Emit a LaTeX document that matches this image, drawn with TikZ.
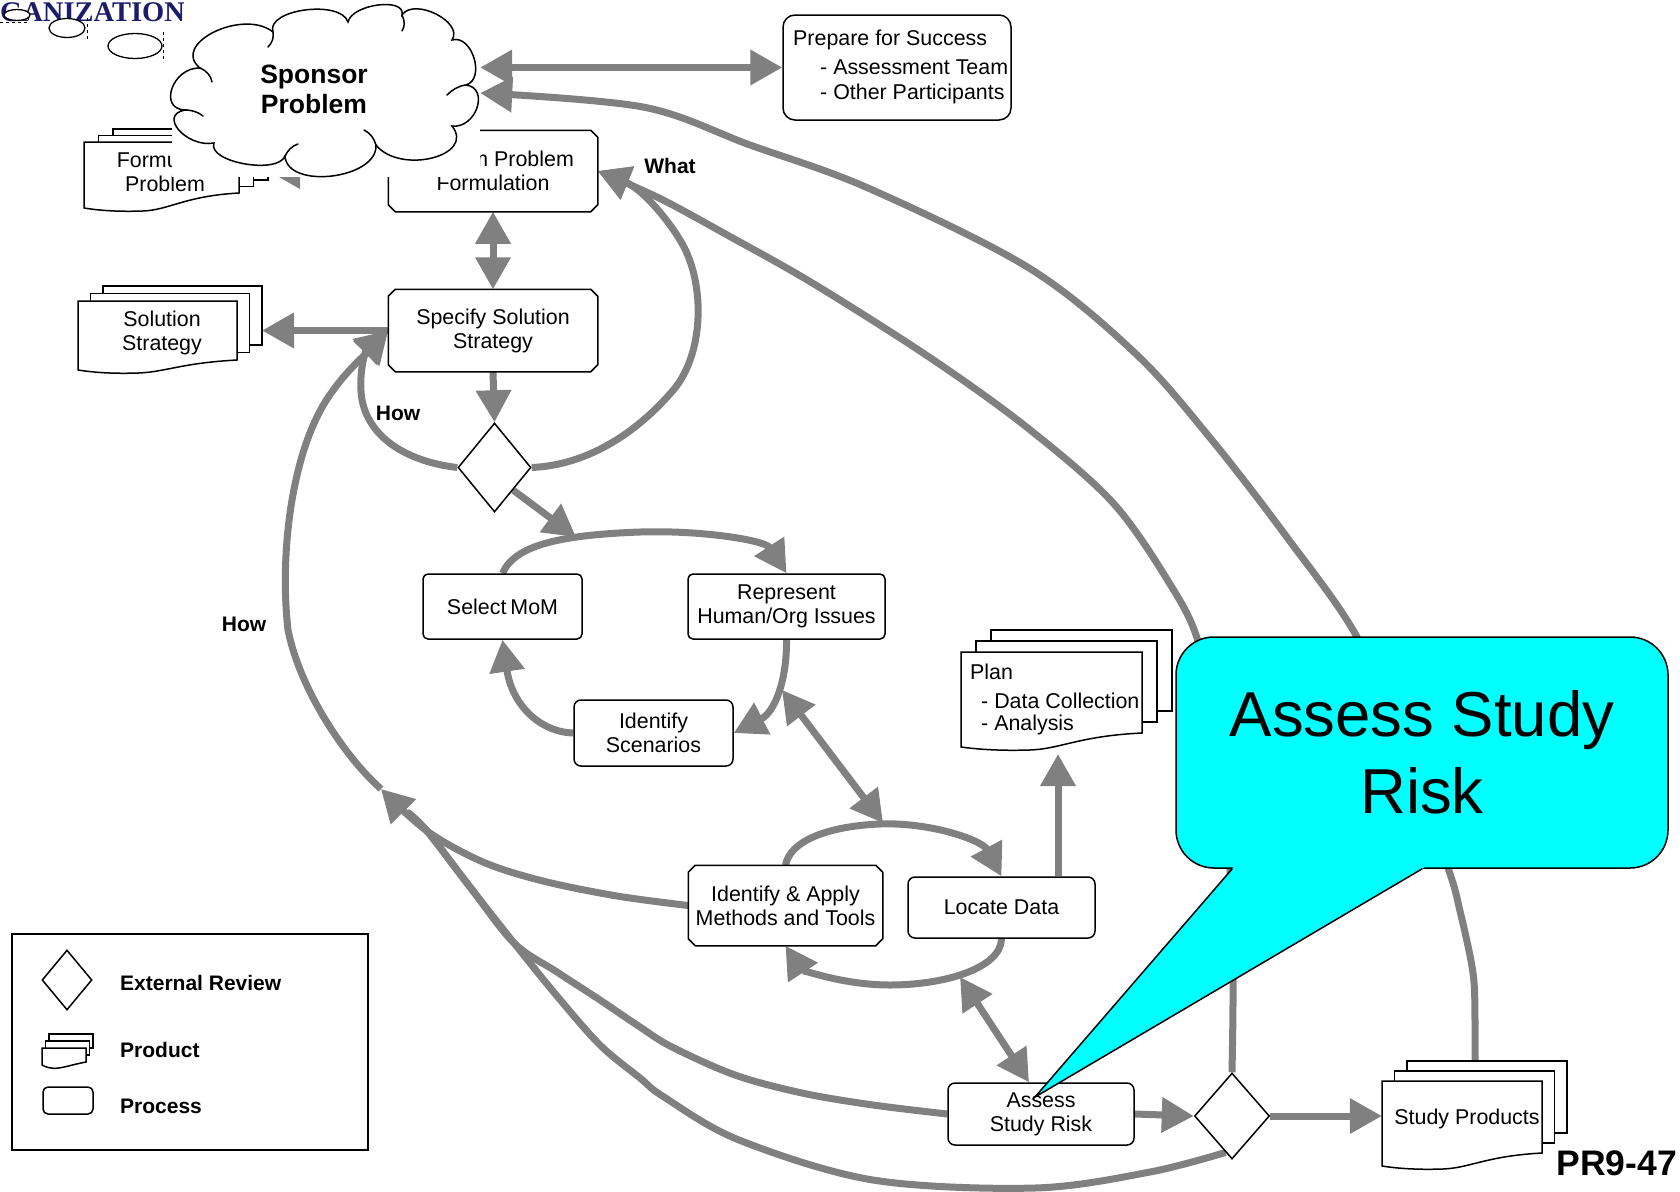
\documentclass[tikz,border=0pt]{standalone}
\usepackage{fontspec}
\setmainfont{Liberation Sans}
\newfontfamily\orgfont{Liberation Serif}
\usetikzlibrary{arrows.meta,shapes.geometric,calc}

\pgfdeclarelayer{links}
\pgfdeclarelayer{over}
\pgfsetlayers{links,main,over}

\definecolor{linkgray}{HTML}{808080}
\definecolor{calloutcyan}{HTML}{00FFFF}
\definecolor{orgnavy}{HTML}{1C1C6B}

\newcommand\diagfont{\fontsize{21.4}{24}\selectfont}
\newcommand\tagfont{\bfseries\fontsize{21}{23}\selectfont}

\tikzset{
  link/.style={draw=linkgray, line width=7pt},
  arr/.style={link, -{Triangle[length=32pt,width=34pt]}},
  darr/.style={link, {Triangle[length=32pt,width=34pt]}-{Triangle[length=32pt,width=34pt]}},
  procbox/.style={draw, line width=1.5pt, fill=white, rounded corners=7pt,
    inner sep=0pt, align=center, font=\diagfont},
  chambox/.style={procbox, draw=none},
  review/.style={diamond, draw, line width=1.5pt, fill=white, inner sep=0pt},
  sheet/.style={draw, fill=white, line width=1.5pt, line join=miter},
  txt/.style={inner sep=0pt, font=\diagfont},
  tag/.style={inner sep=0pt, font=\tagfont},
  cloudline/.style={draw, line width=1.5pt, line cap=round},
}

% outline with cut corners around a process node
\newcommand\chamferframe[1]{%
  \draw[line width=1.5pt, line join=miter]
    ($(#1.north west)+(7,0)$) -- ($(#1.north east)+(-7,0)$) -- ($(#1.north east)+(0,7)$)
    -- ($(#1.south east)+(0,-7)$) -- ($(#1.south east)+(-7,0)$) -- ($(#1.south west)+(7,0)$)
    -- ($(#1.south west)+(0,-7)$) -- ($(#1.north west)+(0,7)$) -- cycle;
}

% stack of three sheets with a wavy front sheet
% #1 name, #2 x0, #3 y0, #4 x1, #5 y1 (front sheet), #6 dx, #7 dy (sheet offset), #8 wave depth
\newcommand\prodstack[8]{%
  \path[sheet] ({#2+2*(#6)},{#3+2*(#7)}) rectangle ({#4+2*(#6)},{#5+2*(#7)});
  \path[sheet] ({#2+(#6)},{#3+(#7)}) rectangle ({#4+(#6)},{#5+(#7)});
  \path[sheet] (#2,#3) -- (#4,#3) -- (#4,#5)
     .. controls ({#4-0.35*(#4-#2)},{#5+3}) and ({#4-0.45*(#4-#2)},{#5+(#8)+2})
     .. ({#4-0.62*(#4-#2)},{#5+(#8)+3})
     .. controls ({#4-0.8*(#4-#2)},{#5+(#8)+4}) and ({#2+0.08*(#4-#2)},{#5+(#8)+2})
     .. (#2,{#5+(#8)}) -- cycle;
  \node[inner sep=0pt, minimum width={(#4-#2)*1pt}, minimum height={(#5-#3)*1pt}]
     (#1) at ({(#2+#4)/2},{(#3+#5)/2}) {};
  \coordinate (#1-east) at ({#4+2*(#6)},{(#3+#5)/2+2*(#7)});
  \coordinate (#1-top) at ({(#2+#4)/2+2*(#6)},{#3+2*(#7)});
}

\begin{document}
\begin{tikzpicture}[x=1pt,y=-1pt]
\useasboundingbox (0,0) rectangle (1680,1191);

% ---------- heading remnant and thought bubbles ----------
\node[inner sep=0pt, anchor=base west, text=orgnavy,
      font=\orgfont\bfseries\fontsize{28.5}{28.5}\selectfont] (org) at (0,21) {GANIZATION};
\draw[dashed, line width=0.6pt] (0,22) -- (28,22) -- (28,12);
\draw[dashed, line width=0.6pt] (87,18) -- (87,40);
\draw[dashed, line width=0.6pt] (163,32) -- (163,62);
\node[ellipse, draw, line width=1.3pt, fill=white, inner sep=0pt,
      minimum width=26pt, minimum height=11pt] (bubA) at (17,15) {};
\node[ellipse, draw, line width=1.3pt, fill=white, inner sep=0pt,
      minimum width=36pt, minimum height=19pt] (bubB) at (67,28) {};
\node[ellipse, draw, line width=1.3pt, fill=white, inner sep=0pt,
      minimum width=54pt, minimum height=25pt] (bubC) at (135,46) {};

% ---------- products ----------
\prodstack{formprob}{84}{142}{239}{193}{14.5}{-6.5}{15}
\node[txt, align=center] (formtext) at (165,172) {Formulate\\Problem};

\prodstack{solstrat}{78}{301}{237}{360}{12.5}{-7.5}{10}
\node[txt, align=center] (soltext) at (162,333) {Solution\\Strategy};

\prodstack{plan}{961}{652}{1142}{733}{15}{-11}{14}
\node[txt, anchor=base west] (plan1) at (970,679) {Plan};
\node[txt, anchor=base west] (plan2) at (981,708) {- Data Collection};
\node[txt, anchor=base west] (plan3) at (981,730) {- Analysis};

\prodstack{prods}{1382}{1081}{1542}{1153}{12.5}{-10}{13}
\node[txt] (prodtext) at (1467,1119) {Study Products};

% ---------- processes ----------
\node[procbox, minimum width=228pt, minimum height=105pt, rounded corners=12pt] (prep) at (897,67.5) {};
\node[txt, anchor=base west] (prep1) at (793,45) {Prepare for Success};
\node[txt, anchor=base west] (prep2) at (820,74) {- Assessment Team};
\node[txt, anchor=base west] (prep3) at (820,99) {- Other Participants};

\node[chambox, minimum width=208pt, minimum height=80pt] (perf) at (493,171) {Perform Problem\\Formulation};
\chamferframe{perf}
\node[chambox, minimum width=208pt, minimum height=81pt] (spec) at (493,330.5) {Specify Solution\\Strategy};
\chamferframe{spec}
\node[procbox, minimum width=159pt, minimum height=65pt, rounded corners=5pt] (mom) at (502.5,606.5) {Select\hspace{4pt}MoM};
\node[procbox, minimum width=197pt, minimum height=65pt, rounded corners=5pt] (repr) at (786.5,606.5) {Represent\\Human/Org Issues};
\node[procbox, minimum width=159pt, minimum height=66pt] (scen) at (653.5,733) {Identify\\Scenarios};
\node[chambox, minimum width=193pt, minimum height=79pt] (ident) at (785.5,905.5) {Identify \& Apply\\Methods and Tools};
\chamferframe{ident}
\node[procbox, minimum width=187pt, minimum height=61pt] (locate) at (1001.5,907.5) {Locate Data};
\node[procbox, minimum width=186pt, minimum height=62pt] (assess) at (1041,1114) {Assess\\Study Risk};

\node[review, minimum width=73pt, minimum height=89pt] (rev1) at (494.5,467.5) {};
\node[review, minimum width=75pt, minimum height=86pt] (rev2) at (1232,1116) {};

% ---------- labels ----------
\node[tag] (what) at (670,166) {What};
\node[tag] (howin) at (398,413) {How};
\node[tag] (howout) at (244,624) {How};
\node[inner sep=0pt, anchor=base east, font=\bfseries\fontsize{35.5}{36}\selectfont] (code) at (1677,1175) {PR9-47};

% ---------- legend ----------
\node[draw, line width=1.5pt, inner sep=0pt, minimum width=356pt, minimum height=216pt] (legend) at (190,1042) {};
\node[review, minimum width=50pt, minimum height=60pt] (legdia) at (67,980) {};
\prodstack{legprod}{42}{1048}{86}{1062}{3.5}{-7}{3}
\node[procbox, minimum width=50pt, minimum height=27pt, rounded corners=5pt] (legproc) at (68,1100.5) {};
\node[tag, anchor=base west] (legrevtxt) at (120,990) {External Review};
\node[tag, anchor=base west] (legprodtxt) at (120,1057) {Product};
\node[tag, anchor=base west] (legproctxt) at (120,1113) {Process};

% ---------- sponsor cloud (clip art on a white backdrop) and callout ----------
\begin{pgfonlayer}{over}
\node[fill=white, inner sep=0pt, minimum width=296pt, minimum height=177pt] (cloudbg) at (332,88.5) {};
\fill[white] (172,40) rectangle (185,177);
\path[cloudline, fill=white]
  (200,68)  .. controls (170,44)    and (243,8)     .. (273,32)
            .. controls (265.7,9.3) and (340.7,-0.7) .. (348,22)
            .. controls (352,4)     and (406,-3)    .. (402,15)
            .. controls (414,-3)    and (464,22)    .. (452,40)
            .. controls (472,34)    and (486,79)    .. (466,85)
            .. controls (490,88)    and (476,129)   .. (452,126)
            .. controls (476,156)   and (400,175)   .. (376,145)
            .. controls (378,179)   and (287,190)   .. (285,156)
            .. controls (277.7,175) and (206.7,162) .. (214,143)
            .. controls (186.7,148) and (157.7,115) .. (185,110)
            .. controls (157.7,109) and (172.7,67)  .. (200,68) -- cycle;
% creases of the cloud
\path[cloudline] (200,68) .. controls (207,71) and (211,76) .. (212,82);
\path[cloudline] (273,32) .. controls (274,38) and (272,43) .. (268,47);
\path[cloudline] (402,15) .. controls (405,21) and (405,26) .. (402,31);
\path[cloudline] (466,85) .. controls (458,86) and (452,90) .. (447,95);
\path[cloudline] (376,145) .. controls (374,138) and (370,133) .. (364,130);
\path[cloudline] (285,156) .. controls (288,150) and (292,146) .. (298,144);
\path[cloudline] (185,110) .. controls (192,110) and (198,112) .. (203,116);
\node[inner sep=0pt, align=center, font=\bfseries\fontsize{26.5}{30}\selectfont]
      (sponsor) at (314,89) {Sponsor\\Problem};

\node[draw, line width=1.5pt, fill=calloutcyan, rounded corners=38pt, inner sep=0pt,
      minimum width=492pt, minimum height=231pt, align=center,
      font=\fontsize{63.5}{77}\selectfont] (callout) at (1422,752.5) {Assess Study\\Risk};
\coordinate (ptip) at (1035,1097);
\coordinate (pl) at ($(callout.south west)+(57,0)$);
\coordinate (pr) at ($(callout.south west)+(247,0)$);
\fill[calloutcyan] ($(ptip)!1.015!(pl)$) -- (ptip) -- ($(ptip)!1.015!(pr)$) -- cycle;
\draw[line width=1.5pt, line join=miter] (pl) -- (ptip) -- (pr);
\end{pgfonlayer}

% ---------- connectors ----------
\begin{pgfonlayer}{links}
\draw[darr] (prep.west -| cloudbg.east) -- (prep.west);
\draw[darr] (perf.south) -- (spec.north);
\draw[arr] (perf.west) -- (perf.west -| formprob-east);
\draw[arr] (spec.west) -- (spec.west -| solstrat-east);
\draw[arr] (spec.south) -- (rev1.north);

% How: back from the first review to the strategy
\draw[arr] (rev1.west) .. controls (410,462) and (370,440) .. (362,400)
           .. controls (358,375) and (365,352) .. (spec.west);
% What: back from the first review to the formulation
\draw[arr] (rev1.east) .. controls (590,465) and (640,430) .. (675,388)
           .. controls (705,350) and (705,280) .. (680,240)
           .. controls (665,215) and (640,188) .. (perf.east);

% first working loop
\coordinate (loopin) at (576,537);
\draw[arr] (rev1.south east) -- (loopin);
\draw[arr] (mom.north) .. controls (515,545) and (560,535) .. (640,532)
           .. controls (700,530) and (765,540) .. (repr.north);
\draw[arr] (repr.south) .. controls (787,680) and (775,712) .. (scen.east);
\draw[arr] (scen.west) .. controls (540,732) and (512,705) .. (mom.south);

% second working loop
\coordinate (midA) at (782,690);
\coordinate (midB) at (883,823);
\draw[darr] (midA) -- (midB);
\draw[arr] (ident.north) .. controls (790,840) and (830,826) .. (880,824)
           .. controls (930,822) and (982,840) .. (locate.north);
\draw[arr] (locate.south) .. controls (1001,968) and (945,985) .. (890,985)
           .. controls (840,985) and (800,968) .. (ident.south);
\coordinate (midC) at (960,977);
\draw[darr] (midC) -- ($(assess.north)+(-12,0)$);

\coordinate (planfoot) at (1058,754);
\draw[arr] (planfoot |- locate.north) -- (planfoot);
\draw[arr] (assess.east) -- (rev2.west);
\draw[arr] (rev2.east) -- (rev2.east -| prods.west);

% long returns on the left
\coordinate (J) at (381,789);
\coordinate (K) at (427,831);
\coordinate (Kb) at (407,812);
\draw[link] plot[smooth, tension=0.55] coordinates {(assess.west) (873,1105) (802,1093) (735,1075)
   (672,1047) (640,1027) (600,1000) (557,972) (514,943) (470,887) (K) (Kb)};
\draw[link] plot[smooth, tension=0.55] coordinates {(rev2.260) (1150,1172) (1035,1188) (873,1180)
   (739,1140) (664,1097) (640,1078) (600,1045) (557,996) (514,943) (470,887) (K) (Kb)};
\draw[arr] plot[smooth, tension=0.55] coordinates {(ident.west) (617,896) (543,881) (483,862) (K) (J)};
\draw[arr] (J) .. controls (345,757) and (300,690) .. (288,630)
           .. controls (280,560) and (290,470) .. (318,415)
           .. controls (335,380) and (368,352) .. (spec.west);

% long returns on the right
\coordinate (prodsline) at ($(prods-top)+(-12,0)$);
\coordinate (cloudin) at ($(cloudbg.east)+(0,4.5)$);
\draw[arr] plot[smooth, tension=0.55] coordinates {(prodsline) (1475,1021) (1473,973) (1460,911)
   (1448,868) (1405,752) (1357,637) (1286,536) (1211,439) (1136,354) (1029,268)
   (868,188) (750,145) (643,107) (cloudin)};
\draw[arr] plot[smooth, tension=0.55] coordinates {(rev2.north) (1233,980) (1230,870) (1215,720)
   (1198,641) (1173,589) (1114,504) (1029,429) (932,359) (814,284) (729,236) (659,198) (perf.east)};
\end{pgfonlayer}
\end{tikzpicture}
\end{document}
